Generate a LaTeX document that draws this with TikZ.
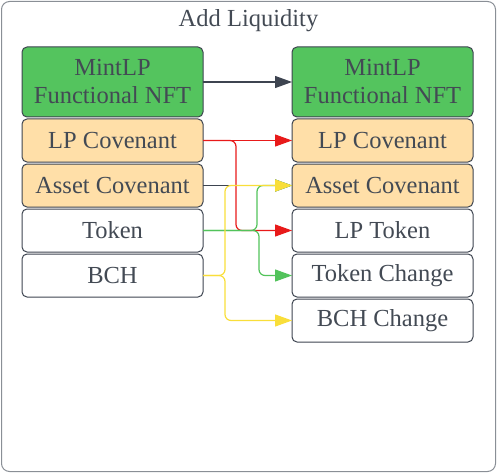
\documentclass[tikz,border=0pt]{standalone}
\usepackage{fontspec}
\setmainfont{Liberation Serif}
\usepackage{xcolor}
\usetikzlibrary{arrows.meta,positioning,calc}

\definecolor{mintgreen}{HTML}{54C45E}
\definecolor{covorange}{HTML}{FFDFA8}
\definecolor{boxline}{HTML}{3D4450}
\definecolor{textgray}{HTML}{434A54}
\definecolor{framegray}{HTML}{8A8F96}
\definecolor{redline}{HTML}{E81A1A}
\definecolor{greenline}{HTML}{52C35B}
\definecolor{yellowline}{HTML}{F9DE3A}

\begin{document}
\begin{tikzpicture}[
    x=1pt, y=1pt,
    node distance=2pt,
    box/.style={rectangle, draw=boxline, line width=1pt, rounded corners=5pt, minimum width=181pt, minimum height=43pt, inner sep=0pt, outer sep=0pt, align=center, text=textgray, font=\fontsize{24.5}{28}\selectfont},
    arrow/.style={-{Triangle[length=17pt, width=12pt]}, line width=1.2pt, rounded corners=6pt}
]
    \useasboundingbox (0,0) rectangle (497,-473);
    \node[draw=framegray, line width=1pt, rounded corners=8pt, minimum width=494pt, minimum height=470pt, anchor=north west, inner sep=0pt] (frame) at (1,-1) {};
    \node[text=textgray, font=\fontsize{24.5}{28}\selectfont, below=5pt of frame.north] (title) {Add Liquidity};

    \node[box, fill=mintgreen, minimum height=70pt] (mint) at (112.5,-82) {MintLP\\Functional NFT};
    \node[box, fill=covorange, below=of mint] (lpcov) {LP Covenant};
    \node[box, fill=covorange, below=of lpcov] (asset) {Asset Covenant};
    \node[box, below=of asset] (token) {Token};
    \node[box, below=of token] (bch) {BCH};

    \node[box, fill=mintgreen, minimum height=70pt, right=89pt of mint] (mintR) {MintLP\\Functional NFT};
    \node[box, fill=covorange, below=of mintR] (lpcovR) {LP Covenant};
    \node[box, fill=covorange, below=of lpcovR] (assetR) {Asset Covenant};
    \node[box, below=of assetR] (lptokR) {LP Token};
    \node[box, below=of lptokR] (tokchR) {Token Change};
    \node[box, below=of tokchR] (bchchR) {BCH Change};

    \draw[arrow, boxline] (mint) -- (mintR);
    \draw[arrow, boxline] (asset) -- (assetR);
    \draw[arrow, redline] (lpcov) -- (lpcovR);
    \draw[arrow, redline] (lpcov.east) -- ++(33pt,0) |- (lptokR.west);
    \draw[arrow, greenline] (token.east) -- ++(54pt,0) |- (assetR.west);
    \draw[arrow, greenline] (token.east) -- ++(56pt,0) |- (tokchR.west);
    \draw[arrow, yellowline] (bch.east) -- ++(22pt,0) |- (assetR.west);
    \draw[arrow, yellowline] (bch.east) -- ++(22pt,0) |- (bchchR.west);
\end{tikzpicture}
\end{document}
